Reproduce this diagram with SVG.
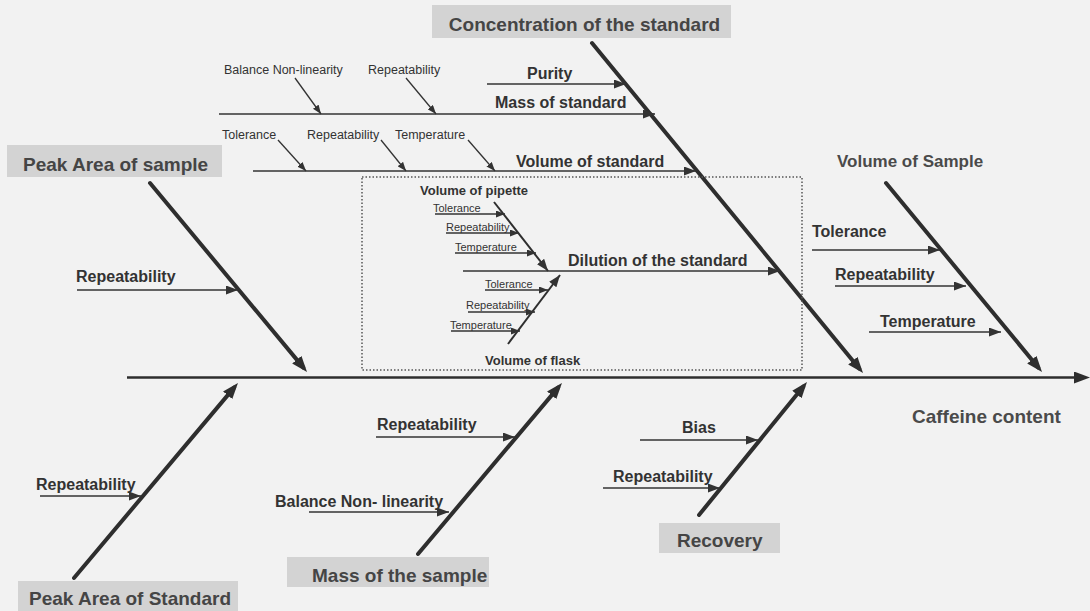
<svg xmlns="http://www.w3.org/2000/svg" width="1090" height="611" viewBox="0 0 1090 611">
<defs>
<marker id="big" markerUnits="userSpaceOnUse" markerWidth="16" markerHeight="12" refX="10" refY="6" orient="auto"><path d="M0,0 L16,6 L0,12 z" fill="#2e2e2e"/></marker>
<marker id="mid" markerUnits="userSpaceOnUse" markerWidth="12" markerHeight="9" refX="12" refY="4.5" orient="auto"><path d="M0,0 L12,4.5 L0,9 z" fill="#333"/></marker>
<marker id="small" markerUnits="userSpaceOnUse" markerWidth="9" markerHeight="7" refX="9" refY="3.5" orient="auto"><path d="M0,0 L9,3.5 L0,7 z" fill="#333"/></marker>
</defs>
<style>
.bg{fill:#f2f2f2}
.box{fill:#d3d3d3}
text{font-family:"Liberation Sans",Arial,sans-serif;fill:#333}
.bl{font-size:19px;font-weight:bold;fill:#454545}
.lb{font-size:16px;font-weight:bold}
.sm{font-size:12.5px}
.xs{font-size:11px}
.in{font-size:13px;font-weight:bold}
.big{font-size:17px;font-weight:bold;fill:#4a4a4a}
.bone{stroke:#2e2e2e;stroke-width:4;fill:none;stroke-linecap:round;marker-end:url(#big)}
.spine{stroke:#2e2e2e;stroke-width:2.5;fill:none;marker-end:url(#big)}
.sub{stroke:#333;stroke-width:1.5;fill:none;marker-end:url(#mid)}
.thin{stroke:#333;stroke-width:1.3;fill:none;marker-end:url(#small)}
.ibone{stroke:#2e2e2e;stroke-width:2;fill:none;marker-end:url(#mid)}
.dots{fill:none;stroke:#555;stroke-width:1.5;stroke-dasharray:1.5 2}
</style>
<rect class="bg" x="0" y="0" width="1090" height="611"/>

<g id="connectors">
  <line class="spine" x1="127" y1="377.5" x2="1084" y2="377.5"/>
  <line class="bone" x1="592" y1="43" x2="859.2" y2="368.4"/>
  <line class="bone" x1="150" y1="183" x2="303.2" y2="367.4"/>
  <line class="bone" x1="886" y1="183" x2="1038.2" y2="367.4"/>
  <line class="bone" x1="74" y1="578" x2="234.1" y2="387.6"/>
  <line class="bone" x1="418" y1="554" x2="558.1" y2="387.6"/>
  <line class="bone" x1="699" y1="515" x2="803.2" y2="386.7"/>
  <!-- concentration branches -->
  <line class="sub" x1="487" y1="84" x2="626" y2="84"/>
  <line class="sub" x1="219" y1="114" x2="655" y2="114"/>
  <line class="sub" x1="253" y1="171" x2="696" y2="171"/>
  <line class="thin" x1="295" y1="78" x2="321" y2="114"/>
  <line class="thin" x1="406" y1="78" x2="436" y2="114"/>
  <line class="thin" x1="278" y1="140" x2="306" y2="171"/>
  <line class="thin" x1="381" y1="140" x2="406" y2="171"/>
  <line class="thin" x1="468" y1="140" x2="495" y2="171"/>
  <!-- dilution box -->
  <rect class="dots" x="362" y="177" width="440" height="193"/>
  <line class="sub" x1="463" y1="271" x2="780" y2="271"/>
  <line class="ibone" x1="494" y1="202" x2="548" y2="271"/>
  <line class="ibone" x1="508" y1="344" x2="560" y2="275"/>
  <line class="thin" x1="435" y1="214" x2="505" y2="214"/>
  <line class="thin" x1="446" y1="233" x2="519" y2="233"/>
  <line class="thin" x1="455" y1="253" x2="536" y2="253"/>
  <line class="thin" x1="485" y1="290" x2="548" y2="290"/>
  <line class="thin" x1="468" y1="312" x2="535" y2="312"/>
  <line class="thin" x1="451" y1="331" x2="520" y2="331"/>
  <!-- other branches -->
  <line class="sub" x1="77" y1="290" x2="238" y2="290"/>
  <line class="sub" x1="812" y1="250" x2="940" y2="250"/>
  <line class="sub" x1="835" y1="286" x2="966" y2="286"/>
  <line class="sub" x1="869" y1="332" x2="1001" y2="332"/>
  <line class="sub" x1="40" y1="496" x2="141" y2="496"/>
  <line class="sub" x1="376" y1="437" x2="515" y2="437"/>
  <line class="sub" x1="309" y1="512" x2="449" y2="512"/>
  <line class="sub" x1="640" y1="440" x2="758" y2="440"/>
  <line class="sub" x1="603" y1="488" x2="720" y2="488"/>
</g>

<g id="concentration">
  <rect class="box" x="432" y="5" width="299" height="33"/>
  <text class="bl" x="584.5" y="31" text-anchor="middle">Concentration of the standard</text>
</g>
<g id="purity"><text class="lb" x="527" y="79">Purity</text></g>
<g id="mass-standard"><text class="lb" x="495" y="108">Mass of standard</text></g>
<g id="balance-nonlin-top"><text class="sm" x="224" y="74">Balance Non-linearity</text></g>
<g id="repeat-top"><text class="sm" x="368" y="74">Repeatability</text></g>
<g id="volume-standard"><text class="lb" x="516" y="167">Volume of standard</text></g>
<g id="tol-vs"><text class="sm" x="222" y="139">Tolerance</text></g>
<g id="rep-vs"><text class="sm" x="307" y="139">Repeatability</text></g>
<g id="temp-vs"><text class="sm" x="395" y="139">Temperature</text></g>

<g id="dilution"><text class="lb" x="568" y="266">Dilution of the standard</text></g>
<g id="vol-pipette"><text class="in" x="420" y="195">Volume of pipette</text></g>
<g id="tol-p"><text class="xs" x="433" y="212">Tolerance</text></g>
<g id="rep-p"><text class="xs" x="446" y="231">Repeatability</text></g>
<g id="temp-p"><text class="xs" x="455" y="251">Temperature</text></g>
<g id="tol-f"><text class="xs" x="485" y="288">Tolerance</text></g>
<g id="rep-f"><text class="xs" x="466" y="309">Repeatability</text></g>
<g id="temp-f"><text class="xs" x="450" y="329">Temperature</text></g>
<g id="vol-flask"><text class="in" x="485" y="365">Volume of flask</text></g>

<g id="peak-sample">
  <rect class="box" x="7" y="145" width="215" height="32"/>
  <text class="bl" x="23" y="171">Peak Area of sample</text>
</g>
<g id="rep-ps"><text class="lb" x="76" y="282">Repeatability</text></g>

<g id="volume-sample"><text class="big" x="837" y="167">Volume of Sample</text></g>
<g id="tol-vsam"><text class="lb" x="812" y="237">Tolerance</text></g>
<g id="rep-vsam"><text class="lb" x="835" y="280">Repeatability</text></g>
<g id="temp-vsam"><text class="lb" x="880" y="327">Temperature</text></g>

<g id="caffeine"><text class="bl" x="912" y="423" style="fill:#4a4a4a">Caffeine content</text></g>

<g id="peak-standard">
  <rect class="box" x="18" y="581" width="220" height="30"/>
  <text class="bl" x="29" y="605">Peak Area of Standard</text>
</g>
<g id="rep-pstd"><text class="lb" x="36" y="490">Repeatability</text></g>

<g id="mass-sample">
  <rect class="box" x="287" y="557" width="202" height="30"/>
  <text class="bl" x="312" y="582">Mass of the sample</text>
</g>
<g id="rep-ms"><text class="lb" x="377" y="430">Repeatability</text></g>
<g id="bal-ms"><text class="lb" x="275" y="507">Balance Non- linearity</text></g>

<g id="recovery">
  <rect class="box" x="659" y="523" width="121" height="30"/>
  <text class="bl" x="677" y="547">Recovery</text>
</g>
<g id="bias"><text class="lb" x="682" y="433">Bias</text></g>
<g id="rep-rec"><text class="lb" x="613" y="482">Repeatability</text></g>
</svg>
